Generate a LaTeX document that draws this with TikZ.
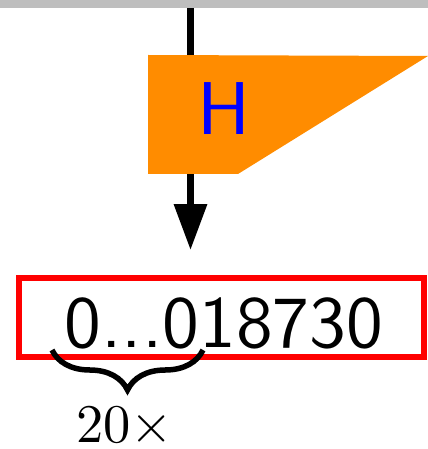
\documentclass[tikz,border=0pt]{standalone}
\usetikzlibrary{arrows.meta,decorations.pathreplacing}
\definecolor{hashorange}{RGB}{255,140,0}
\definecolor{bargray}{RGB}{190,190,190}

\begin{document}
\begin{tikzpicture}[x=0.02cm,y=-0.02cm,
  flow/.style={line width=0.13cm,black},
  hashtxt/.style={font=\sffamily,scale=4.26,text=blue,inner sep=0pt,anchor=base},
  digits/.style={font=\sffamily,scale=4.18,inner sep=0pt,anchor=base},
  outbox/.style={draw=red,line width=0.12cm,minimum width=8.1cm,minimum height=1.58cm,inner sep=0pt},
  brc/.style={decorate,decoration={brace,mirror,amplitude=0.8cm},line width=0.11cm}
]
\useasboundingbox (0,0) rectangle (428,449);
% top bar
\fill[bargray] (0,0) rectangle (428,8);
\coordinate (in) at (190.5,8);

% output box and value
\node[outbox] (box) at (221.5,317.5) {};
\node[digits] (val) at (224,347) {0...018730};

% flow through the hash
\draw[flow,-{Triangle[length=0.92cm,width=0.64cm]},shorten >=0.5cm] (in) -- (in |- box.north);
\fill[hashorange] (148,55) -- (428,56) -- (238,174) -- (148,174) -- cycle;
\node[hashtxt] (hash) at (224,135) {H};

% leading zeros
\coordinate (bl) at (52,350);
\coordinate (br) at (203,350);
\draw[brc] (bl) -- (br);
\node[scale=3.1,inner sep=0pt,anchor=base] (cnt) at (124.5,442) {$20\times$};
\end{tikzpicture}
\end{document}
